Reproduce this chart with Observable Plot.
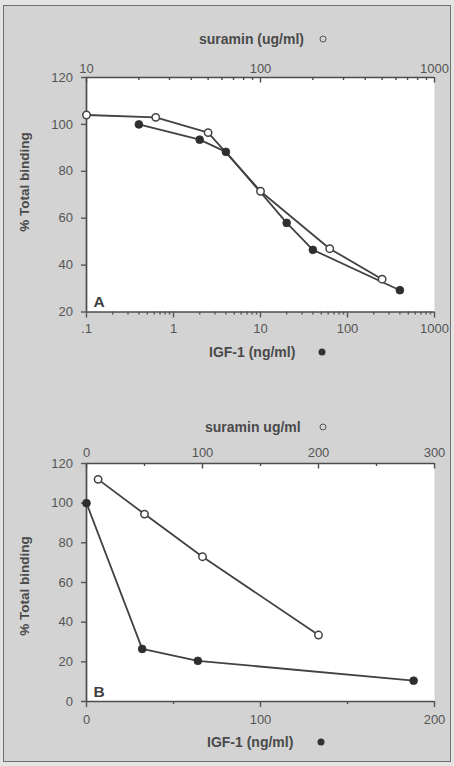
<!DOCTYPE html>
<html><head><meta charset="utf-8">
<script src="https://cdn.jsdelivr.net/npm/d3@7"></script>
<script src="https://cdn.jsdelivr.net/npm/@observablehq/plot@0.6"></script>
<style>
html,body{margin:0;padding:0;background:#e4e4e4;}
#page{position:relative;width:454px;height:766px;overflow:hidden;font-family:"Liberation Sans",Arial,Helvetica,sans-serif;}
#frame{position:absolute;left:3px;top:5px;width:446px;height:755px;border:1.5px solid #707070;background:#d3d3d3;}
.chart{position:absolute;left:0;}
.title{position:absolute;font-weight:bold;font-size:14px;color:#4a4a4a;white-space:nowrap;line-height:14px;}
.ytitle{position:absolute;font-weight:bold;font-size:13.5px;color:#4a4a4a;white-space:nowrap;line-height:14px;transform:translate(-50%,-50%) rotate(-90deg);}
.ring{position:absolute;width:5px;height:5px;border:1.5px solid #555;border-radius:50%;transform:translate(-50%,-50%);}
.blob{position:absolute;width:7px;height:7px;background:#333;border-radius:50%;transform:translate(-50%,-50%);}
</style>
</head><body>
<div id="page"><div id="frame"></div></div>
<script>
// ---- Panel A data ----
const suraminA = [10, 25, 50, 100, 250, 500];          // ug/ml (top axis)
const suraminBindingA = [104, 103, 96.5, 71.5, 47, 34];
const igfA = [0.4, 2, 4, 20, 40, 400];                  // ng/ml (bottom axis)
const igfBindingA = [100, 93.5, 88.3, 58, 46.5, 29.3];
const igfTicksA = [0.1, 1, 10, 100, 1000];
const igfTickLabelsA = [".1", "1", "10", "100", "1000"];
const suraminTicksA = [10, 100, 1000];
const suraminTickLabelsA = ["10", "100", "1000"];
const yTicksA = [20, 40, 60, 80, 100, 120];

// ---- Panel B data ----
const suraminB = [10, 50, 100, 200];                    // ug/ml (top axis)
const suraminBindingB = [112, 94.5, 73, 33.5];
const igfB = [0, 32, 64, 188];                          // ng/ml (bottom axis)
const igfBindingB = [100, 26.5, 20.5, 10.5];
const igfTicksB = [0, 100, 200];
const igfMinorB = [50, 150];
const suraminTicksB = [0, 100, 200, 300];
const suraminMinorB = [50, 150, 250];
const yTicksB = [0, 20, 40, 60, 80, 100, 120];

const panelTags = ["A", "B"];
const titles = {
  topA: "suramin (ug/ml)", botA: "IGF-1 (ng/ml)",
  topB: "suramin ug/ml", botB: "IGF-1 (ng/ml)",
  y: "% Total binding"
};

const lineColor = "#424242", axisColor = "#4c4c4c", textColor = "#555";
const tickFont = 13;
const page = document.getElementById("page");

function decadeMinors(lo, hi) {
  const out = [];
  for (let e = lo; e < hi; e++) for (let k = 2; k <= 9; k++) out.push(k * Math.pow(10, e));
  return out;
}

function panel(cfg) {
  const plotH = cfg.height - cfg.marginTop - cfg.marginBottom;
  const igfData = cfg.igf.map((x, i) => ({x, y: cfg.igfY[i]}));
  const surData = cfg.sur.map((s, i) => ({x: cfg.toX(s), y: cfg.surY[i]}));
  const topMajorLabel = new Map(cfg.topMajor.map((t, i) => [cfg.toX(t), cfg.topLabels[i]]));
  const botMajorLabel = new Map(cfg.botMajor.map((t, i) => [t, cfg.botLabels[i]]));
  const chart = Plot.plot({
    width: 454, height: cfg.height,
    marginLeft: 86, marginRight: 20, marginTop: cfg.marginTop, marginBottom: cfg.marginBottom,
    style: {background: "transparent", color: textColor, fontFamily: '"Liberation Sans", Arial, sans-serif', fontSize: "13px", overflow: "visible"},
    x: {...cfg.xScale, label: null},
    y: {domain: cfg.yDomain, label: null},
    marks: [
      Plot.frame({fill: "white", stroke: null}),
      Plot.line(igfData, {x: "x", y: "y", stroke: lineColor, strokeWidth: 1.8}),
      Plot.line(surData, {x: "x", y: "y", stroke: lineColor, strokeWidth: 1.8}),
      Plot.ruleX([cfg.xScale.domain[0]], {stroke: axisColor, strokeWidth: 1.7}),
      Plot.ruleY(cfg.yDomain, {stroke: axisColor, strokeWidth: 1.7}),
      // top axis ticks (pointing into plot)
      Plot.ruleX(cfg.topMajor.map(cfg.toX), {stroke: axisColor, strokeWidth: 1.4, insetBottom: plotH - 5.5}),
      Plot.ruleX(cfg.topMinor.map(cfg.toX), {stroke: axisColor, strokeWidth: 1.4, insetBottom: plotH - 3}),
      Plot.axisX(cfg.topMajor.map(cfg.toX), {anchor: "top", tickSize: 0, tickPadding: cfg.topPad, fontSize: tickFont, tickFormat: d => topMajorLabel.get(d), label: null}),
      // bottom axis
      Plot.axisX(cfg.botMinor, {anchor: "bottom", tickSize: 3, strokeWidth: 1.4, tickFormat: () => "", label: null}),
      Plot.axisX(cfg.botMajor, {anchor: "bottom", tickSize: 6, strokeWidth: 1.4, tickPadding: cfg.botPad, fontSize: tickFont, tickFormat: d => botMajorLabel.get(d), label: null}),
      // left axis
      Plot.axisY(cfg.yTicks, {anchor: "left", tickSize: 5, strokeWidth: 1.4, tickPadding: 8.5, fontSize: tickFont, label: null}),
      Plot.dot(surData, {x: "x", y: "y", r: 3.7, fill: "white", stroke: lineColor, strokeWidth: 1.5}),
      Plot.dot(igfData, {x: "x", y: "y", r: 3.9, fill: "#2e2e2e", stroke: "#2e2e2e", strokeWidth: 0.8}),
      Plot.text([cfg.tag], {text: d => d, frameAnchor: "bottom-left", textAnchor: "start", lineAnchor: "bottom", dx: 7, dy: -5, fontSize: 15.5, fontWeight: "bold", fill: "#3e3e3e"})
    ]
  });
  chart.classList.add("chart");
  chart.style.top = cfg.top + "px";
  page.appendChild(chart);
}

panel({
  top: 0, height: 340, marginTop: 77, marginBottom: 28.5,
  xScale: {type: "log", domain: [0.1, 1000]},
  toX: s => s * s / 1000,
  yDomain: [20, 120], yTicks: yTicksA,
  igf: igfA, igfY: igfBindingA, sur: suraminA, surY: suraminBindingA,
  botMajor: igfTicksA, botLabels: igfTickLabelsA, botMinor: decadeMinors(-1, 3),
  topMajor: suraminTicksA, topLabels: suraminTickLabelsA, topMinor: decadeMinors(1, 3),
  topPad: 5, botPad: 6, tag: panelTags[0]
});

panel({
  top: 390, height: 340, marginTop: 73, marginBottom: 29,
  xScale: {type: "linear", domain: [0, 200]},
  toX: s => s * 200 / 300,
  yDomain: [0, 120], yTicks: yTicksB,
  igf: igfB, igfY: igfBindingB, sur: suraminB, surY: suraminBindingB,
  botMajor: igfTicksB, botLabels: igfTicksB.map(String), botMinor: igfMinorB,
  topMajor: suraminTicksB, topLabels: suraminTicksB.map(String), topMinor: suraminMinorB,
  topPad: 7, botPad: 7, tag: panelTags[1]
});

function addTitle(text, left, cy) {
  const d = document.createElement("div");
  d.className = "title"; d.textContent = text;
  d.style.left = left + "px"; d.style.top = (cy - 7) + "px";
  page.appendChild(d);
}
function addMarker(cls, cx, cy) {
  const d = document.createElement("div");
  d.className = cls; d.style.left = cx + "px"; d.style.top = cy + "px";
  page.appendChild(d);
}
function addYTitle(text, cx, cy) {
  const d = document.createElement("div");
  d.className = "ytitle"; d.textContent = text;
  d.style.left = cx + "px"; d.style.top = cy + "px";
  page.appendChild(d);
}
addTitle(titles.topA, 199, 39); addMarker("ring", 323, 39);
addTitle(titles.botA, 209, 352); addMarker("blob", 322, 352);
addTitle(titles.topB, 205, 427); addMarker("ring", 323, 427);
addTitle(titles.botB, 207, 742); addMarker("blob", 321, 742);
addYTitle(titles.y, 25, 182);
addYTitle(titles.y, 25, 586);
</script>
</body></html>
